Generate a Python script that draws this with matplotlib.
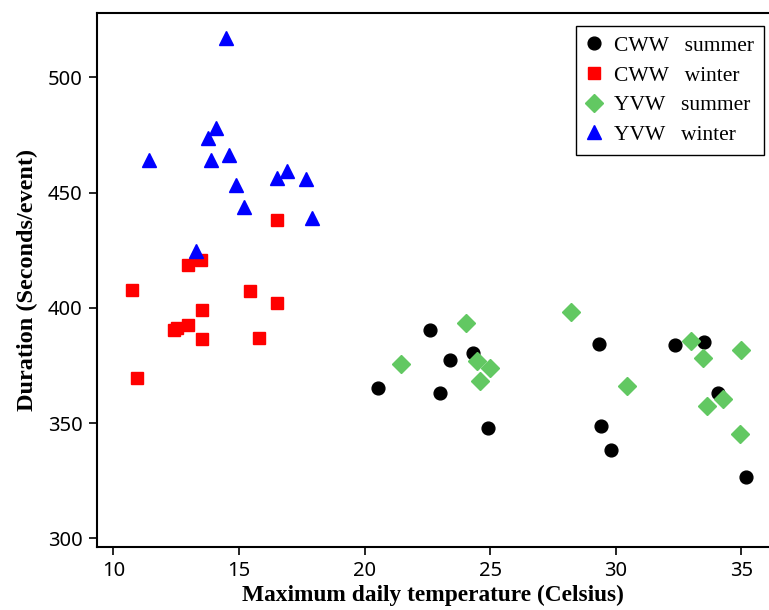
import matplotlib
matplotlib.use('Agg')
import matplotlib.pyplot as plt

# CWW summer (black circles)
cww_summer_x = [20.53, 22.62, 23.40, 23.00, 24.32, 24.90, 29.34, 29.42, 29.80, 32.35, 33.52, 34.05, 35.18]
cww_summer_y = [365.1, 390.2, 377.3, 362.9, 380.2, 347.9, 384.5, 348.6, 338.4, 383.7, 385.1, 362.9, 326.8]

# CWW winter (red squares)
cww_winter_x = [16.51, 12.99, 13.49, 10.76, 15.46, 16.51, 13.51, 12.42, 12.52, 12.99, 13.51, 15.80, 10.96]
cww_winter_y = [438.1, 418.4, 420.8, 407.8, 407.1, 402.0, 399.0, 390.2, 391.3, 392.6, 386.3, 386.8, 369.5]

# YVW summer (green diamonds)
yvw_summer_x = [21.46, 24.02, 24.48, 25.01, 24.61, 28.21, 30.43, 32.98, 33.48, 34.28, 33.64, 35.00, 34.93]
yvw_summer_y = [375.5, 393.5, 376.9, 373.9, 368.2, 398.4, 366.1, 385.4, 378.2, 360.3, 357.4, 381.9, 345.3]

# YVW winter (blue triangles)
yvw_winter_x = [14.49, 11.42, 14.09, 13.76, 13.88, 14.62, 14.89, 15.22, 16.51, 16.91, 17.68, 17.90, 13.29]
yvw_winter_y = [517.0, 464.2, 477.9, 473.7, 464.2, 466.4, 453.4, 443.6, 456.3, 459.4, 455.7, 439.1, 424.8]

x_ticks = [10, 15, 20, 25, 30, 35]
y_ticks = [300, 350, 400, 450, 500]

fig = plt.figure(figsize=(7.69, 6.10), dpi=100)
ax = fig.add_axes([96.5 / 769, 63.3 / 610, 1 - 96.5 / 769, 534.0 / 610])

ax.plot(cww_summer_x, cww_summer_y, 'o', color='black', markersize=9.2, label='CWW   summer')
ax.plot(cww_winter_x, cww_winter_y, 's', color='#ff0000', markersize=8, label='CWW   winter')
ax.plot(yvw_summer_x, yvw_summer_y, 'D', color='#62c862', markersize=8.8, label='YVW   summer')
ax.plot(yvw_winter_x, yvw_winter_y, '^', color='#0000ff', markersize=9.5, label='YVW   winter')

ax.set_xlim(9.33, 36.1)
ax.set_ylim(296.4, 528.0)
ax.set_xticks(x_ticks)
ax.set_yticks(y_ticks)

for s in ['left', 'bottom', 'top']:
    ax.spines[s].set_linewidth(1.5)
ax.spines['right'].set_visible(False)
ax.tick_params(direction='out', length=6, width=1.2, pad=4)
for lab in ax.get_xticklabels() + ax.get_yticklabels():
    lab.set_fontfamily('Noto Sans')
    lab.set_fontsize(14.5)

ax.set_xlabel('Maximum daily temperature (Celsius)', fontfamily='Liberation Serif',
              fontweight='bold', fontsize=16.8, labelpad=3)
ax.set_ylabel('Duration (Seconds/event)', fontfamily='Liberation Serif',
              fontweight='bold', fontsize=17.5, labelpad=7)

leg = ax.legend(loc='upper right', bbox_to_anchor=(0.9926, 0.9751), borderaxespad=0,
                prop={'family': 'Liberation Serif', 'size': 15.5}, fancybox=False,
                framealpha=1, edgecolor='black', handlelength=0.8, handletextpad=0.55,
                labelspacing=0.45, borderpad=0.45, numpoints=1)
leg.get_frame().set_linewidth(1.0)

plt.savefig('out.png', dpi=100)
